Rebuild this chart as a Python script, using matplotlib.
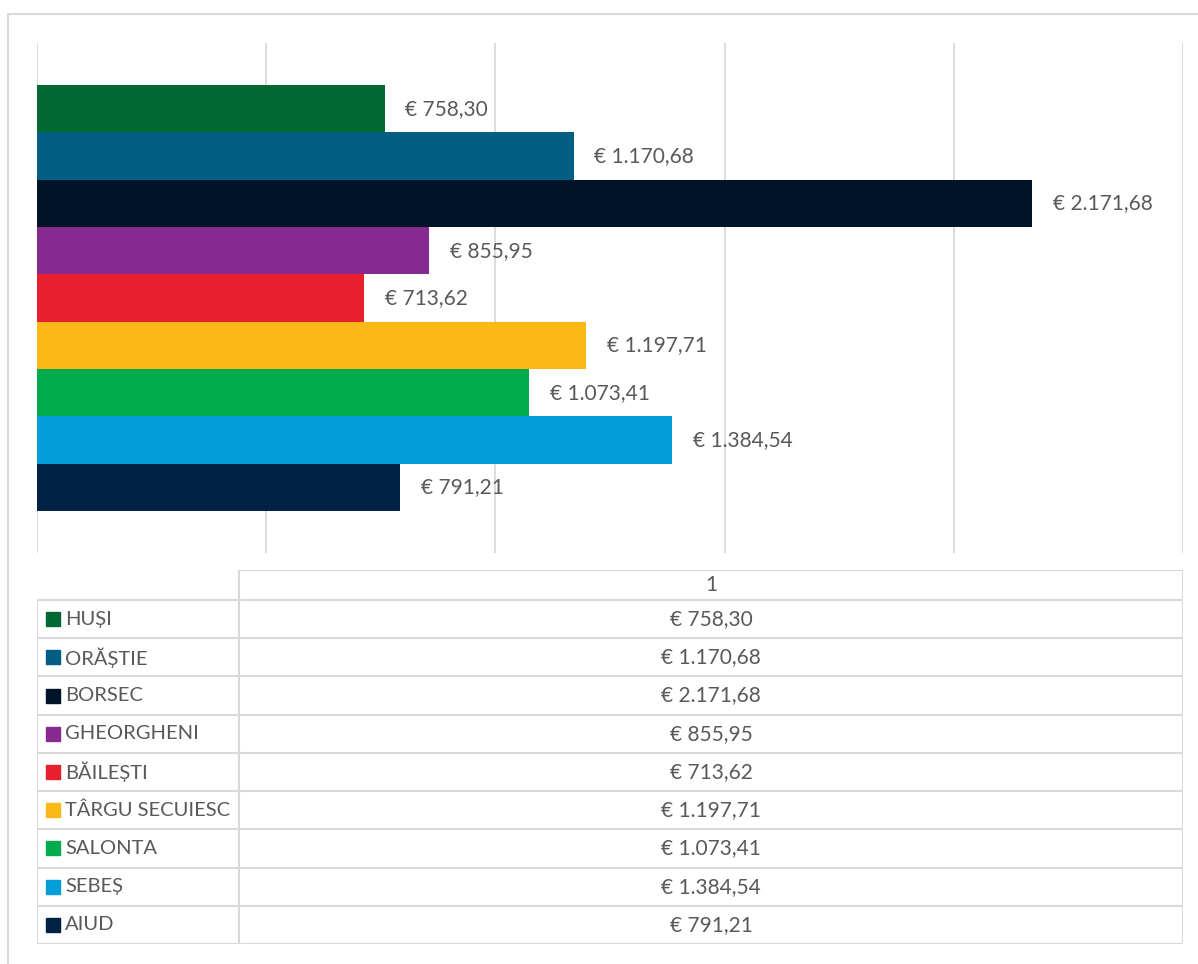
import matplotlib.pyplot as plt
from matplotlib.patches import Rectangle

# Cities and values (EUR)
cities = ['HUȘI', 'ORĂȘTIE', 'BORSEC', 'GHEORGHENI', 'BĂILEȘTI',
          'TÂRGU SECUIESC', 'SALONTA', 'SEBEȘ', 'AIUD']
values = [758.30, 1170.68, 2171.68, 855.95, 713.62, 1197.71, 1073.41, 1384.54, 791.21]
colors = ['#006830', '#035E84', '#001429', '#862A8F', '#E8202E',
          '#FBB817', '#00AB4E', '#009DD9', '#002245']
series_name = '1'


def eur(v):
    s = f'{v:,.2f}'.replace(',', 'X').replace('.', ',').replace('X', '.')
    return '€ ' + s


plt.rcParams['font.family'] = ['Lato', 'DejaVu Sans']
txt = '#595959'
grid = '#D9D9D9'
fs = 15

W, H = 1198, 964
fig = plt.figure(figsize=(W / 100, H / 100), dpi=100)

# outer chart border (only top/left visible)
fig.patches.append(Rectangle((8 / W, -0.1), 1.2, (H - 14) / H + 0.1, transform=fig.transFigure,
                             fill=False, edgecolor=grid, lw=1.5))

# bar chart
ax = fig.add_axes([37 / W, 1 - 553 / H, (1183 - 37) / W, (553 - 43) / H])
n = len(cities)
ax.barh(range(n), values, height=1.0, color=colors)
ax.set_xlim(0, 2500)
ax.set_ylim(n - 0.5 + 0.89, -0.5 - 0.89)
ax.set_xticks(range(0, 2501, 500))
ax.xaxis.grid(True, color=grid, lw=1.3)
ax.set_axisbelow(True)
ax.tick_params(length=0, labelbottom=False, labelleft=False)
for s in ax.spines.values():
    s.set_visible(False)
for i, v in enumerate(values):
    ax.annotate(eur(v), (v, i), xytext=(15, 0), textcoords='offset points',
                va='center', ha='left', fontsize=fs, color=txt)

# data table below
tx0, tx1, ty0, ty1 = 37, 1183, 570, 944
tab = fig.add_axes([tx0 / W, 1 - ty1 / H, (tx1 - tx0) / W, (ty1 - ty0) / H])
tab.set_xlim(tx0, tx1)
tab.set_ylim(ty1, ty0)
tab.axis('off')
col = 239
head = 600
rh = (ty1 - head) / n
lw = 1.5
# header cell
tab.plot([col, tx1, tx1], [ty0, ty0, head], color=grid, lw=lw)
tab.plot([col, col], [ty0, ty1], color=grid, lw=lw)
tab.text((col + tx1) / 2, (ty0 + head) / 2, series_name, ha='center', va='center',
         fontsize=fs, color=txt)
for i in range(n + 1):
    y = head + i * rh
    tab.plot([tx0, tx1], [y, y], color=grid, lw=lw)
tab.plot([tx0, tx0], [head, ty1], color=grid, lw=lw)
tab.plot([tx1, tx1], [head, ty1], color=grid, lw=lw)
for i, (c, v, colr) in enumerate(zip(cities, values, colors)):
    yc = head + (i + 0.5) * rh
    tab.add_patch(Rectangle((46, yc - 7), 14, 14, color=colr))
    tab.text(65, yc, c, ha='left', va='center', fontsize=fs - 0.5, color=txt)
    tab.text((col + tx1) / 2, yc, eur(v), ha='center', va='center', fontsize=fs, color=txt)

fig.savefig('out.png', dpi=100)
